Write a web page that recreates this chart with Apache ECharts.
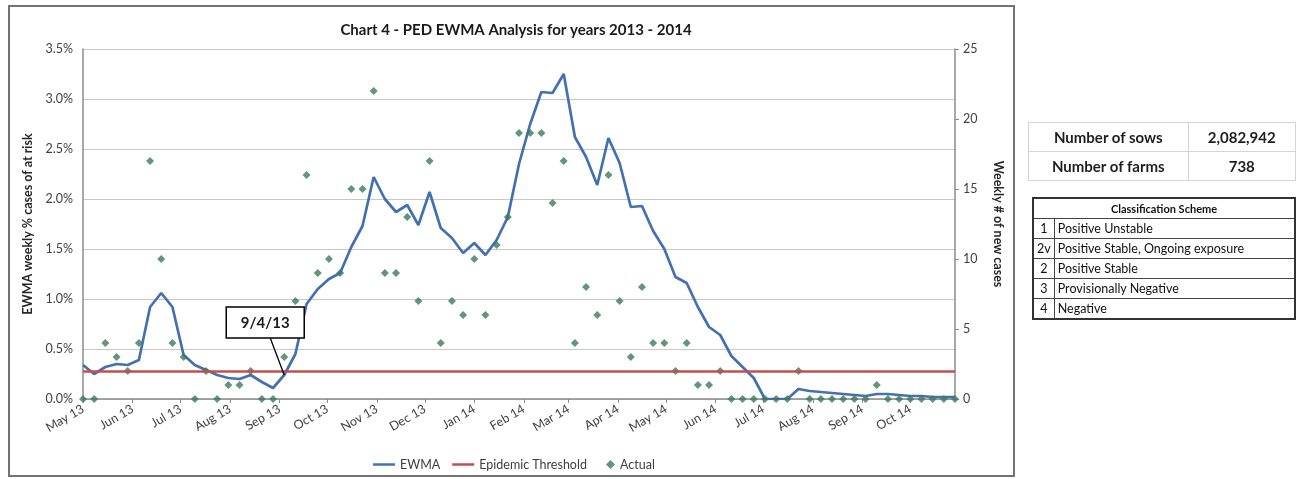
<!DOCTYPE html>
<html>
<head>
<meta charset="utf-8">
<script src="https://cdn.jsdelivr.net/npm/echarts@6/dist/echarts.min.js"></script>
<style>
    body { margin: 0; background: #fff; font-family: Lato, sans-serif; }
    #chart { position: absolute; left: 0; top: 0; width: 1296px; height: 479px; }
    .farms { position: absolute; left: 1028px; top: 122px; border-collapse: collapse; }
    .farms td { border: 1px solid #d4d4d4; font-weight: bold; font-size: 15px; color: #1e1e1e; height: 28px; padding: 0; text-align: center; }
    .scheme { position: absolute; left: 1032px; top: 197px; border-collapse: collapse; border: 2px solid #333; }
    .scheme td { border: 1px solid #444; font-size: 12.5px; color: #111; height: 19px; padding: 0 3px; line-height: 18px; }
    .scheme th { border: 1px solid #444; font-size: 11px; color: #111; height: 19px; padding: 0; }
</style>
</head>
<body>
<div id="chart"></div>
<table class="farms">
    <tr><td style="width:160px">Number of sows</td><td style="width:107px">2,082,942</td></tr>
    <tr><td>Number of farms</td><td>738</td></tr>
</table>
<table class="scheme">
    <tr><th colspan="2">Classification Scheme</th></tr>
    <tr><td style="width:7px;text-align:center">1</td><td style="width:235px">Positive Unstable</td></tr>
    <tr><td style="text-align:center">2v</td><td>Positive Stable, Ongoing exposure</td></tr>
    <tr><td style="text-align:center">2</td><td>Positive Stable</td></tr>
    <tr><td style="text-align:center">3</td><td>Provisionally Negative</td></tr>
    <tr><td style="text-align:center">4</td><td>Negative</td></tr>
</table>
<script>
// weekly points, every Wednesday from 1 May 2013
var firstWeek = new Date(2013, 4, 1)
var monthNames = ['Jan', 'Feb', 'Mar', 'Apr', 'May', 'Jun', 'Jul', 'Aug', 'Sep', 'Oct', 'Nov', 'Dec']

// EWMA weekly % cases of at risk
var ewma = [
    0.34, 0.25, 0.32, 0.35, 0.34, 0.39, 0.92, 1.06, 0.92, 0.44,
    0.34, 0.29, 0.24, 0.21, 0.20, 0.24, 0.17, 0.11, 0.24, 0.45,
    0.95, 1.10, 1.20, 1.26, 1.52, 1.73, 2.22, 2.00, 1.87, 1.94,
    1.74, 2.07, 1.71, 1.61, 1.46, 1.56, 1.44, 1.59, 1.82, 2.35,
    2.75, 3.07, 3.06, 3.25, 2.62, 2.42, 2.14, 2.61, 2.36, 1.92,
    1.93, 1.68, 1.50, 1.22, 1.16, 0.92, 0.72, 0.64, 0.43, 0.32,
    0.21, 0.00, 0.00, 0.00, 0.10, 0.08, 0.07, 0.06, 0.05, 0.04,
    0.03, 0.05, 0.05, 0.04, 0.03, 0.03, 0.02, 0.02, 0.02
]
// weekly # of new cases
var actual = [
    0, 0, 4, 3, 2, 4, 17, 10, 4, 3,
    0, 2, 0, 1, 1, 2, 0, 0, 3, 7,
    16, 9, 10, 9, 15, 15, 22, 9, 9, 13,
    7, 17, 4, 7, 6, 10, 6, 11, 13, 19,
    19, 19, 14, 17, 4, 8, 6, 16, 7, 3,
    8, 4, 4, 2, 4, 1, 1, 2, 0, 0,
    0, 0, 0, 0, 2, 0, 0, 0, 0, 0,
    0, 1, 0, 0, 0, 0, 0, 0, 0
]
var threshold = 0.28
var calloutWeek = 18   // 9/4/13
var calloutText = '9/4/13'

var weeks = []
for (var i = 0; i < ewma.length; i++) {
    weeks.push(new Date(firstWeek.getFullYear(), firstWeek.getMonth(), firstWeek.getDate() + 7 * i).getTime())
}

var chart = echarts.init(document.getElementById('chart'))
var axisText = { color: '#404040', fontSize: 12.5, fontFamily: 'Lato' }
var legendText = { color: '#404040', fontSize: 12.5, fontFamily: 'Lato' }

var option = {
    animation: false,
    textStyle: { fontFamily: 'Lato' },
    title: {
        text: 'Chart 4 - PED EWMA Analysis for years 2013 - 2014',
        left: 511, top: 18, textAlign: 'center',
        textStyle: { fontSize: 15, fontWeight: 'bold', color: '#1a1a1a', fontFamily: 'Lato' }
    },
    grid: { left: 83, right: 341, top: 49, bottom: 80 },
    legend: [
        {
            top: 453, left: 368,
            icon: 'rect', itemWidth: 22, itemHeight: 2.5, itemGap: 12,
            textStyle: legendText,
            data: ['EWMA', 'Epidemic Threshold']
        },
        {
            top: 453, left: 601,
            icon: 'diamond', itemWidth: 9, itemHeight: 9,
            textStyle: legendText,
            data: ['Actual']
        }
    ],
    xAxis: {
        type: 'time',
        min: weeks[0], max: weeks[weeks.length - 1],
        splitNumber: 18,
        axisLine: { lineStyle: { color: '#8c8c8c', width: 1.5 } },
        axisTick: { show: true, length: 4, lineStyle: { color: '#8c8c8c' } },
        splitLine: { show: false },
        axisLabel: Object.assign({
            rotate: 30, margin: 9,
            formatter: function (value) {
                var d = new Date(value)
                return monthNames[d.getMonth()] + ' ' + String(d.getFullYear()).slice(2)
            }
        }, axisText)
    },
    yAxis: [
        {
            type: 'value', min: 0, max: 3.5, interval: 0.5,
            name: 'EWMA weekly % cases of at risk',
            nameLocation: 'middle', nameGap: 46,
            nameTextStyle: { fontWeight: 'bold', fontSize: 12.5, color: '#262626', fontFamily: 'Lato' },
            axisLine: { show: true, lineStyle: { color: '#8c8c8c', width: 1.5 } },
            axisTick: { show: false },
            splitLine: { lineStyle: { color: '#c8c8c8', width: 1.2 } },
            axisLabel: Object.assign({
                margin: 10,
                formatter: function (v) { return v.toFixed(1) + '%' }
            }, axisText)
        },
        {
            type: 'value', min: 0, max: 25, interval: 5,
            name: 'Weekly # of new cases',
            nameLocation: 'middle', nameGap: 37, nameRotate: -90,
            nameTextStyle: { fontWeight: 'bold', fontSize: 12.5, color: '#262626', fontFamily: 'Lato' },
            axisLine: { show: true, lineStyle: { color: '#8c8c8c', width: 1.5 } },
            axisTick: { show: true, length: 4, lineStyle: { color: '#8c8c8c' } },
            splitLine: { show: false },
            axisLabel: Object.assign({ margin: 8 }, axisText)
        }
    ],
    series: [
        {
            name: 'EWMA', type: 'line', yAxisIndex: 0,
            data: weeks.map(function (t, i) { return [t, ewma[i]] }),
            symbol: 'none', z: 3,
            lineStyle: { color: '#4470b0', width: 2.7 },
            itemStyle: { color: '#4470b0' }
        },
        {
            name: 'Epidemic Threshold', type: 'line', yAxisIndex: 0,
            data: [], symbol: 'none',
            lineStyle: { color: '#c0504d', width: 2.5 },
            itemStyle: { color: '#c0504d' },
            markLine: {
                silent: true, symbol: 'none', label: { show: false },
                lineStyle: { color: '#c0504d', width: 2.5, type: 'solid' },
                data: [{ yAxis: threshold }]
            }
        },
        {
            name: 'Actual', type: 'scatter', yAxisIndex: 1,
            data: weeks.map(function (t, i) { return [t, actual[i]] }),
            symbol: 'diamond', symbolSize: 8, z: 4,
            itemStyle: { color: '#3b7a5c' }
        }
    ]
}
chart.setOption(option)

// chart-area frame and the 9/4/13 callout, placed from the data point
var tip = chart.convertToPixel({ xAxisIndex: 0, yAxisIndex: 0 }, [weeks[calloutWeek], ewma[calloutWeek]])
chart.setOption({
    graphic: [
        {
            type: 'rect', silent: true, z: -1,
            shape: { x: 9, y: 6, width: 1005, height: 470 },
            style: { fill: 'none', stroke: '#737373', lineWidth: 2 }
        },
        {
            type: 'line', z: 10,
            shape: { x1: tip[0] - 14, y1: tip[1] - 37, x2: tip[0], y2: tip[1] },
            style: { stroke: '#000', lineWidth: 1.3 }
        },
        {
            type: 'rect', z: 10,
            shape: { x: tip[0] - 58, y: tip[1] - 68, width: 78, height: 31 },
            style: { fill: '#fff', stroke: '#000', lineWidth: 1.5 }
        },
        {
            type: 'text', z: 11,
            x: tip[0] - 19, y: tip[1] - 52,
            style: {
                text: calloutText, fill: '#1a1a1a', font: 'bold 15px Lato',
                align: 'center', verticalAlign: 'middle'
            }
        }
    ]
})
</script>
</body>
</html>
